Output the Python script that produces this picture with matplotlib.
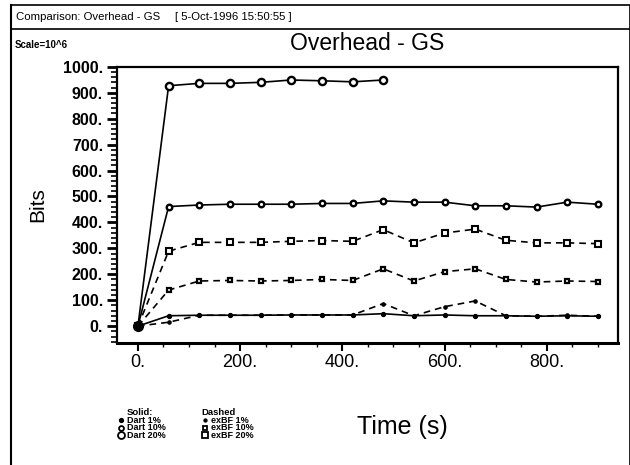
import matplotlib
matplotlib.use("Agg")
import matplotlib.pyplot as plt
from matplotlib.lines import Line2D
from matplotlib.ticker import MultipleLocator, FuncFormatter

plt.rcParams['font.family'] = ['Liberation Sans', 'DejaVu Sans']

# time axis (s)
t_short = [0, 60, 120, 180, 240, 300, 360, 420, 480]
t_long = [0, 60, 120, 180, 240, 300, 360, 420, 480, 540, 600, 660, 720, 780, 840, 900]

# solid: Dart
dart_1 = [0, 40, 42, 42, 42, 43, 43, 43, 48, 40, 43, 40, 40, 38, 40, 38]
dart_10 = [0, 461, 467, 470, 470, 470, 473, 473, 483, 478, 478, 464, 464, 459, 478, 470]
dart_20 = [0, 927, 936, 936, 940, 949, 946, 942, 949]

# dashed: exBF
exbf_1 = [0, 15, 42, 42, 42, 43, 43, 43, 87, 40, 75, 97, 40, 38, 42, 38]
exbf_10 = [0, 139, 174, 176, 174, 176, 180, 176, 221, 174, 210, 221, 180, 170, 174, 172]
exbf_20 = [0, 289, 323, 323, 323, 327, 330, 327, 372, 321, 359, 374, 331, 321, 321, 318]

fig = plt.figure(figsize=(6.3, 4.65), dpi=100)
ax = fig.add_axes([0.1857, 0.2624, 0.795, 0.594])

k = dict(color='black', markeredgecolor='black')
ax.plot(t_long, dart_1, '-', lw=1.2, marker='o', ms=2.8, markerfacecolor='black', **k)
ax.plot(t_long, dart_10, '-', lw=1.2, marker='o', ms=4, markerfacecolor='white', mew=1.7, **k)
ax.plot(t_short, dart_20, '-', lw=1.2, marker='o', ms=5.2, markerfacecolor='white', mew=1.7, **k)
ax.plot(t_long, exbf_1, '--', lw=1.2, dashes=(4, 3), marker='o', ms=2.3, markerfacecolor='black', **k)
ax.plot(t_long, exbf_10, '--', lw=1.2, dashes=(4, 3), marker='s', ms=3.2, markerfacecolor='white', mew=1.6, **k)
ax.plot(t_long, exbf_20, '--', lw=1.2, dashes=(4, 3), marker='s', ms=4.2, markerfacecolor='white', mew=1.5, **k)
# big dot at the origin
ax.plot([t_long[0]], [dart_1[0]], 'o', ms=7, color='black')

ax.set_xlim(-41, 939)
ax.set_ylim(-65, 1000)
ax.xaxis.set_major_locator(MultipleLocator(200))
ax.xaxis.set_minor_locator(MultipleLocator(50))
ax.yaxis.set_major_locator(MultipleLocator(100))
ax.yaxis.set_minor_locator(MultipleLocator(20))
fmt = FuncFormatter(lambda v, p: f"{int(round(v))}.")
ax.xaxis.set_major_formatter(fmt)
ax.yaxis.set_major_formatter(fmt)
ax.tick_params(axis='x', which='major', direction='out', length=6, width=1.5, labelsize=13, pad=2)
ax.tick_params(axis='x', which='minor', direction='out', length=3, width=1)
ax.tick_params(axis='y', which='major', direction='out', length=7, width=2, labelsize=11.5, pad=3)
ax.tick_params(axis='y', which='minor', direction='out', length=4, width=1.2)
for lab in ax.get_yticklabels():
    lab.set_fontweight('bold')
for s in ax.spines.values():
    s.set_linewidth(1.6)
ax.spines['bottom'].set_linewidth(2.2)

ax.set_xlabel("Time (s)", fontsize=18)
ax.xaxis.set_label_coords(0.57, -0.26)
ax.set_ylabel("Bits", fontsize=15)
ax.yaxis.set_label_coords(-0.14, 0.5)
ax.set_title("Overhead - GS", fontsize=16.5, pad=12)

# page frame and header
W, H = 630.0, 465.0
def hline(y, x0, x1, lw=1.2):
    fig.add_artist(Line2D([x0 / W, x1 / W], [1 - y / H, 1 - y / H], color='black', lw=lw))
def vline(x, y0, y1, lw=1.2):
    fig.add_artist(Line2D([x / W, x / W], [1 - y0 / H, 1 - y1 / H], color='black', lw=lw))
hline(5, 11, 630)
hline(29, 11, 630)
vline(11, 5, 465, lw=1.5)
vline(629, 5, 465, lw=0.6)

fig.text(16 / W, 1 - 17 / H, "Comparison: Overhead - GS", fontsize=8.2, va='center')
fig.text(175 / W, 1 - 17 / H, "[ 5-Oct-1996 15:50:55 ]", fontsize=8.2, va='center')
fig.text(15 / W, 1 - 45 / H, "Scale=10^6", fontsize=7, fontweight='bold', va='center')

# legend block
fig.text(140 / W, 1 - 412 / H, "Solid:", fontsize=6.8, fontweight='bold', ha='center', va='center')
fig.text(219 / W, 1 - 412 / H, "Dashed", fontsize=6.8, fontweight='bold', ha='center', va='center')
solid_items = [("Dart 1%", 'o', 2.5, 'black'), ("Dart 10%", 'o', 3.5, 'white'), ("Dart 20%", 'o', 5, 'white')]
dash_items = [("exBF 1%", 'o', 1.8, 'black'), ("exBF 10%", 's', 3, 'white'), ("exBF 20%", 's', 4, 'white')]
for i, (lbl, m, ms, fc) in enumerate(solid_items):
    y = 1 - (420 + 7.5 * i) / H
    fig.add_artist(Line2D([121 / W], [y], marker=m, ms=ms, markerfacecolor=fc, markeredgecolor='black', mew=1.3, ls='none'))
    fig.text(127 / W, y, lbl, fontsize=6.5, fontweight='bold', va='center')
for i, (lbl, m, ms, fc) in enumerate(dash_items):
    y = 1 - (420 + 7.5 * i) / H
    fig.add_artist(Line2D([205 / W], [y], marker=m, ms=ms, markerfacecolor=fc, markeredgecolor='black', mew=1.3, ls='none'))
    fig.text(211 / W, y, lbl, fontsize=6.5, fontweight='bold', va='center')

fig.savefig("out.png", dpi=100)
